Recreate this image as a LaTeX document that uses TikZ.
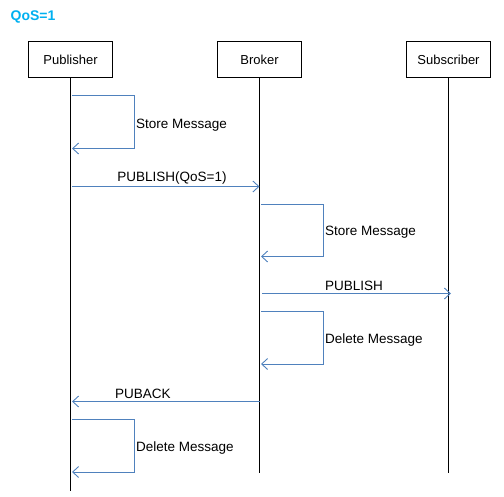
\documentclass[tikz,border=0pt]{standalone}
\usepackage{fontspec}
\setmainfont{Liberation Sans}
\usetikzlibrary{arrows.meta}
\definecolor{msgblue}{HTML}{4F81BD}
\definecolor{titlecyan}{HTML}{00B0F0}
\tikzset{
  actor/.style={draw=black, line width=1pt, minimum width=84pt, minimum height=36pt, inner sep=0pt, font=\fontsize{13}{15}\selectfont},
  lifeline/.style={draw=black, line width=1pt},
  msg/.style={draw=msgblue, line width=1pt, -{Straight Barb[length=6pt,width=11pt,line width=0.9pt]}},
  lbl/.style={font=\fontsize{13.5}{15}\selectfont, inner sep=0pt},
}
\begin{document}
\begin{tikzpicture}[x=1pt,y=-1pt]
\useasboundingbox (0,0) rectangle (504,496);
\node[font=\bfseries\fontsize{14}{16}\selectfont, text=titlecyan, anchor=west, inner sep=0pt] (title) at (10.5,16.5) {QoS=1};

\node[actor] (pub) at (70.5,59.5) {Publisher};
\node[actor] (bro) at (259.5,59.5) {Broker};
\node[actor] (sub) at (448.5,59.5) {Subscriber};

\coordinate (pubend) at (70.5,491);
\coordinate (broend) at (259.5,473);
\coordinate (subend) at (448.5,473);
\draw[lifeline] (pub.south) -- (pubend);
\draw[lifeline] (bro.south) -- (broend);
\draw[lifeline] (sub.south) -- (subend);

% Publisher store message
\coordinate (s1a) at (72,95.5);
\coordinate (s1b) at (72,148.5);
\draw[msg] (s1a) -- ++(62,0) |- (s1b);
\node[lbl, anchor=west] (l1) at (136,125) {Store Message};

% PUBLISH(QoS=1)
\coordinate (m1a) at (72,186.5);
\coordinate (m1b) at (259.5,186.5);
\draw[msg] (m1a) -- (m1b);
\node[lbl] (l2) at (172,178) {PUBLISH(QoS=1)};

% Broker store message
\coordinate (s2a) at (261,204.5);
\coordinate (s2b) at (261,256.5);
\draw[msg] (s2a) -- ++(62.5,0) |- (s2b);
\node[lbl, anchor=west] (l3) at (325,232) {Store Message};

% PUBLISH
\coordinate (m2a) at (262,293.5);
\coordinate (m2b) at (451,293.5);
\draw[msg] (m2a) -- (m2b);
\node[lbl, anchor=west] (l4) at (325,286) {PUBLISH};

% Broker delete message
\coordinate (s3a) at (261,311.5);
\coordinate (s3b) at (261,364);
\draw[msg] (s3a) -- ++(62.5,0) |- (s3b);
\node[lbl, anchor=west] (l5) at (325,340) {Delete Message};

% PUBACK
\coordinate (m3a) at (259.5,401.5);
\coordinate (m3b) at (72,401.5);
\draw[msg] (m3a) -- (m3b);
\node[lbl, anchor=west] (l6) at (115,394) {PUBACK};

% Publisher delete message
\coordinate (s4a) at (72,419.5);
\coordinate (s4b) at (72,472);
\draw[msg] (s4a) -- ++(62.5,0) |- (s4b);
\node[lbl, anchor=west] (l7) at (136,448) {Delete Message};
\end{tikzpicture}
\end{document}
